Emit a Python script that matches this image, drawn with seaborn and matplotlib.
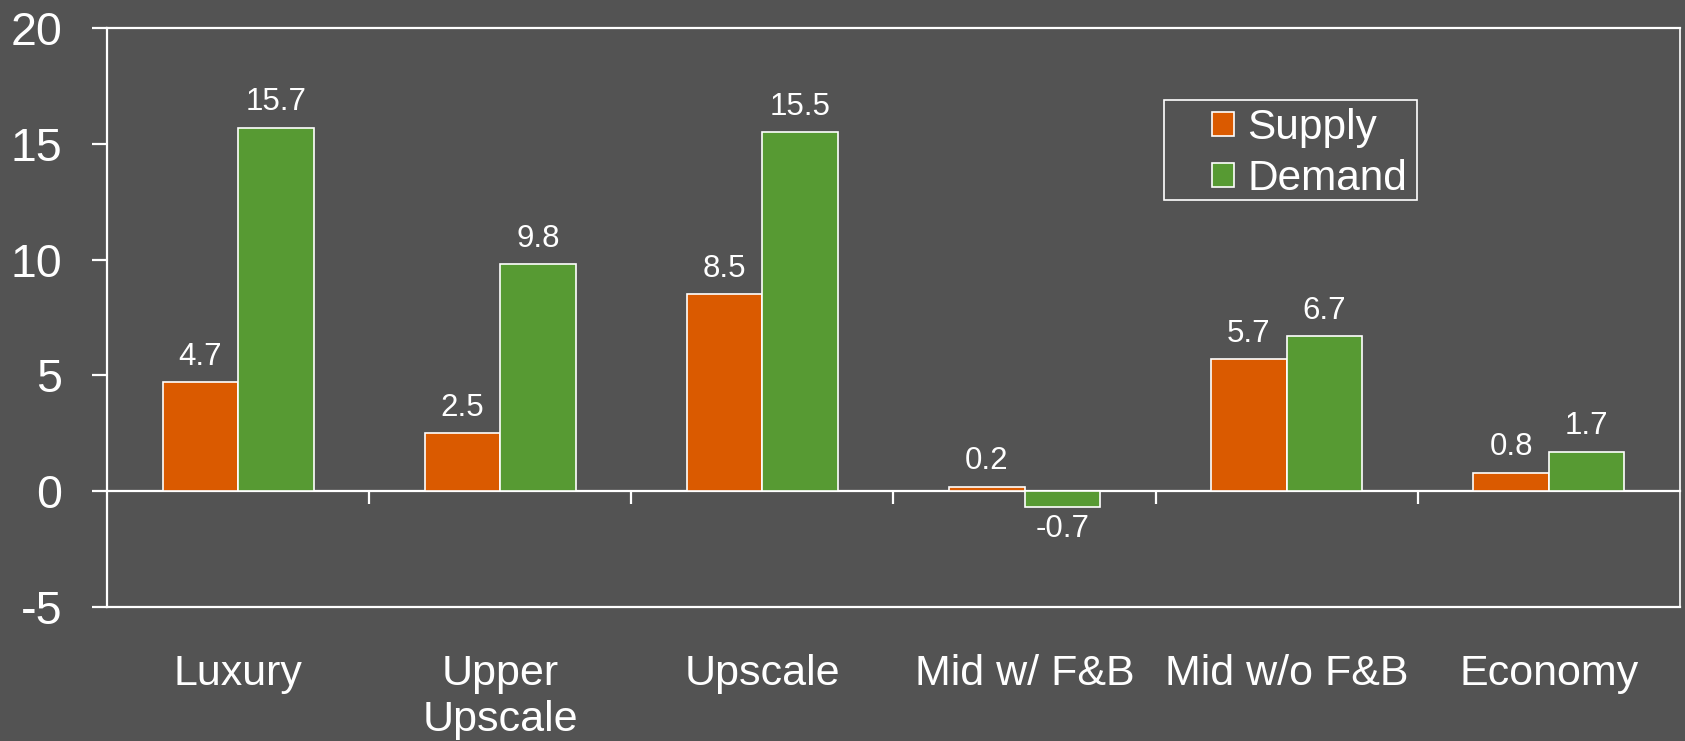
import matplotlib
matplotlib.use("Agg")
import matplotlib.pyplot as plt
from matplotlib.patches import Rectangle
import seaborn as sns
import pandas as pd

categories = ["Luxury", "Upper\nUpscale", "Upscale", "Mid w/ F&B", "Mid w/o F&B", "Economy"]
supply = [4.7, 2.5, 8.5, 0.2, 5.7, 0.8]
demand = [15.7, 9.8, 15.5, -0.7, 6.7, 1.7]
series_names = ["Supply", "Demand"]
y_ticks = [-5, 0, 5, 10, 15, 20]

BG = "#535353"
ORANGE = "#DA5A00"
GREEN = "#579A33"
FG = "white"

sns.set_theme(style="dark")
plt.rcParams["font.family"] = ["Liberation Sans", "DejaVu Sans"]

df = pd.DataFrame({
    "category": categories * 2,
    "series": [series_names[0]] * len(categories) + [series_names[1]] * len(categories),
    "value": supply + demand,
})

fig = plt.figure(figsize=(16.85, 7.41), dpi=100, facecolor=BG)
ax = fig.add_axes([0.0635, 0.1808, 0.9335, 0.7814])
ax.set_facecolor(BG)

sns.barplot(data=df, x="category", y="value", hue="series", order=categories,
            hue_order=series_names, palette=[ORANGE, GREEN], width=0.576,
            edgecolor=FG, linewidth=1.2, saturation=1, ax=ax, legend=True)

ax.set_xlim(-0.5, len(categories) - 0.5)
ax.set_ylim(-5, 20)
ax.set_yticks(y_ticks)
ax.set_yticklabels([str(t) for t in y_ticks])
ax.set_xlabel("")
ax.set_ylabel("")
ax.grid(False)

for side in ["left", "right", "top", "bottom"]:
    ax.spines[side].set_visible(True)
    ax.spines[side].set_color(FG)
    ax.spines[side].set_linewidth(1.6)
ax.spines["right"].set_linewidth(1.2)

ax.tick_params(axis="y", direction="out", length=11, width=1.6, color=FG,
               labelcolor=FG, labelsize=33.5, pad=21, left=True)
ax.tick_params(axis="x", length=0, labelcolor=FG, labelsize=31, pad=34)
for lbl in ax.get_xticklabels():
    lbl.set_linespacing(1.2)

# Zero baseline with category separators
zero_axis = ax.secondary_xaxis(5 / 25)
zero_axis.spines["bottom"].set_color(FG)
zero_axis.spines["bottom"].set_linewidth(1.6)
zero_axis.set_xticks([i + 0.5 for i in range(len(categories) - 1)])
zero_axis.tick_params(axis="x", direction="out", length=9, width=1.6, color=FG,
                      labelbottom=False)

# Value labels
for container, vals in zip(ax.containers, [supply, demand]):
    for bar, v in zip(container, vals):
        x = bar.get_x() + bar.get_width() / 2
        if v >= 0:
            ax.annotate(f"{v:.1f}", (x, v), xytext=(0, 7.5), textcoords="offset points",
                        ha="center", va="bottom", color=FG, fontsize=22.5)
        else:
            ax.annotate(f"{v:.1f}", (x, v), xytext=(0, -5), textcoords="offset points",
                        ha="center", va="top", color=FG, fontsize=22.5)

# Legend with a framed box
leg = ax.legend(loc="upper left", bbox_to_anchor=(0.7028, 0.862), frameon=False,
                fontsize=30.5, labelcolor=FG, handlelength=0.52, handleheight=0.52,
                handletextpad=0.3, labelspacing=0.26, borderpad=0, borderaxespad=0)
for h in leg.legend_handles:
    h.set_edgecolor(FG)
    h.set_linewidth(1.2)
ax.add_patch(Rectangle((0.672, 0.703), 0.161, 0.173, transform=ax.transAxes,
                       fill=False, edgecolor=FG, linewidth=1.2, zorder=5))

fig.savefig("out.png", dpi=100, facecolor=BG)
